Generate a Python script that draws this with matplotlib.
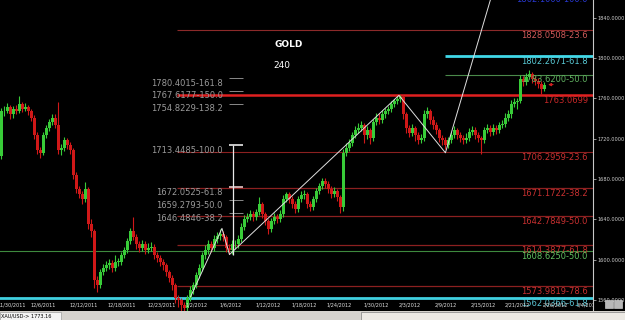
import matplotlib.pyplot as plt
from matplotlib import font_manager
from matplotlib.patches import Rectangle
import matplotlib.transforms as mtransforms

# 4h candles (one candle here ~ two bars of the screenshot)
first_open = 1703
closes = [1747, 1747, 1751, 1744, 1749, 1747, 1754, 1749, 1751, 1747,
          1741, 1724, 1709, 1706, 1724, 1731, 1737, 1741, 1734, 1709,
          1711, 1719, 1714, 1709, 1684, 1670, 1665, 1660, 1670, 1635,
          1628, 1580, 1575, 1588, 1592, 1595, 1597, 1592, 1598, 1598,
          1605, 1610, 1618, 1628, 1622, 1615, 1612, 1615, 1610, 1612,
          1613, 1605, 1602, 1598, 1595, 1588, 1582, 1575, 1562, 1560,
          1555, 1552, 1562, 1570, 1575, 1585, 1592, 1605, 1610, 1615,
          1612, 1620, 1623, 1625, 1622, 1612, 1610, 1615, 1615, 1620,
          1632, 1640, 1642, 1645, 1642, 1647, 1655, 1645, 1638, 1630,
          1638, 1642, 1640, 1645, 1660, 1665, 1660, 1655, 1650, 1660,
          1664, 1665, 1655, 1652, 1660, 1668, 1673, 1678, 1675, 1670,
          1665, 1668, 1662, 1652, 1706, 1711, 1716, 1724, 1729, 1731,
          1734, 1724, 1729, 1721, 1737, 1741, 1739, 1744, 1747, 1749,
          1754, 1757, 1759, 1761, 1744, 1731, 1726, 1731, 1724, 1719,
          1721, 1744, 1747, 1739, 1734, 1729, 1721, 1719, 1714, 1719,
          1724, 1729, 1724, 1721, 1719, 1721, 1727, 1729, 1724, 1721,
          1719, 1729, 1731, 1727, 1731, 1729, 1734, 1735, 1741, 1744,
          1754, 1756, 1757, 1779, 1776, 1781, 1784, 1779, 1777, 1774,
          1769, 1773.16]
highs = [1750, 1752, 1755, 1753, 1752, 1753, 1762, 1756, 1755, 1753,
         1749, 1743, 1727, 1712, 1727, 1734, 1740, 1744, 1744, 1756,
         1715, 1722, 1721, 1717, 1711, 1687, 1673, 1668, 1677, 1672,
         1640, 1630, 1584, 1591, 1596, 1599, 1601, 1600, 1605, 1602,
         1608, 1613, 1621, 1631, 1642, 1625, 1618, 1619, 1618, 1616,
         1617, 1615, 1608, 1605, 1601, 1597, 1590, 1585, 1577, 1565,
         1562, 1558, 1565, 1574, 1578, 1588, 1596, 1608, 1614, 1619,
         1618, 1624, 1627, 1630, 1628, 1624, 1615, 1619, 1619, 1624,
         1636, 1644, 1646, 1649, 1648, 1650, 1662, 1657, 1647, 1640,
         1641, 1646, 1645, 1649, 1664, 1667, 1667, 1663, 1658, 1663,
         1668, 1669, 1667, 1658, 1663, 1671, 1676, 1681, 1681, 1678,
         1673, 1672, 1670, 1664, 1710, 1716, 1720, 1727, 1733, 1736,
         1738, 1736, 1733, 1731, 1740, 1745, 1745, 1748, 1750, 1752,
         1757, 1759, 1762, 1763, 1763, 1746, 1734, 1735, 1733, 1727,
         1725, 1748, 1751, 1749, 1742, 1737, 1731, 1724, 1722, 1722,
         1727, 1733, 1731, 1727, 1724, 1726, 1731, 1733, 1732, 1727,
         1723, 1732, 1735, 1734, 1735, 1734, 1737, 1739, 1745, 1748,
         1758, 1760, 1760, 1783, 1782, 1785, 1788, 1786, 1782, 1780,
         1777, 1776]
lows = [1700, 1742, 1745, 1740, 1741, 1744, 1745, 1746, 1747, 1743,
        1738, 1720, 1705, 1701, 1704, 1721, 1728, 1734, 1731, 1705,
        1704, 1708, 1710, 1705, 1680, 1666, 1661, 1655, 1657, 1630,
        1622, 1572, 1568, 1572, 1585, 1589, 1591, 1588, 1589, 1594,
        1595, 1602, 1607, 1615, 1619, 1611, 1608, 1609, 1606, 1607,
        1609, 1601, 1598, 1594, 1590, 1584, 1578, 1570, 1557, 1553,
        1549, 1548, 1549, 1559, 1566, 1572, 1582, 1589, 1601, 1606,
        1608, 1609, 1616, 1619, 1618, 1608, 1606, 1606, 1611, 1612,
        1617, 1629, 1637, 1639, 1638, 1639, 1644, 1641, 1634, 1625,
        1627, 1635, 1636, 1637, 1642, 1657, 1656, 1651, 1646, 1647,
        1657, 1660, 1651, 1648, 1649, 1657, 1665, 1670, 1671, 1666,
        1661, 1662, 1658, 1646, 1648, 1703, 1708, 1713, 1721, 1726,
        1728, 1716, 1720, 1715, 1718, 1734, 1735, 1736, 1741, 1744,
        1746, 1751, 1754, 1756, 1740, 1726, 1722, 1723, 1718, 1715,
        1716, 1718, 1741, 1735, 1730, 1725, 1717, 1714, 1710, 1711,
        1716, 1721, 1720, 1717, 1715, 1716, 1718, 1724, 1720, 1717,
        1705, 1716, 1726, 1723, 1724, 1725, 1726, 1731, 1732, 1738,
        1741, 1751, 1749, 1755, 1772, 1773, 1779, 1775, 1773, 1770,
        1764, 1767]
opens = [first_open] + closes[:-1]

date_labels = ['11/30/2011', '12/6/2011', '12/12/2011', '12/18/2011', '12/23/2011',
               '1/2/2012', '1/6/2012', '1/12/2012', '1/18/2012', '1/24/2012',
               '1/30/2012', '2/3/2012', '2/9/2012', '2/15/2012', '2/21/2012',
               '2/26/2012', '3/4/2012']
date_pos = [3.5, 14, 27.5, 40, 53.5, 65, 76.5, 89, 101, 112.5,
            125, 136, 148, 160.5, 172, 184.5, 195.5]

# fibonacci levels drawn on the right
fib_prices = [1862.1, 1828.0508, 1802.2671, 1783.62, 1763.0699, 1706.2959,
              1671.1722, 1642.7849, 1614.3877, 1608.625, 1573.9819, 1562.0366]
fib_labels = ['1862.1000-100.0', '1828.0508-23.6', '1802.2671-61.8', '1783.6200-50.0',
              '1763.0699', '1706.2959-23.6', '1671.1722-38.2', '1642.7849-50.0',
              '1614.3877-61.8', '1608.6250-50.0', '1573.9819-78.6', '1562.0366-61.8']
fib_start = [148, 58.5, 148, 148, 58.5, 58.5, 58.5, 58.5, 58.5, -1, 58.5, -1]
fib_line_colors = ['#2030c0', '#8c2a2a', '#40d8e8', '#4a8a4a', '#e02020', '#8c2020',
                   '#8c2020', '#8c2020', '#8c2020', '#3e8a3e', '#8c2020', '#40d0e0']
fib_text_colors = ['#2838d0', '#d05a5a', '#58c8d4', '#60b060', '#c82828', '#c83030',
                   '#c83030', '#c83030', '#c83030', '#60c060', '#c83030', '#58c0d0']
fib_widths = [1, 0.8, 2, 0.8, 1.8, 0.8, 0.9, 0.9, 0.9, 0.8, 0.9, 2]

# projection levels (left labels)
proj_prices = [1780.4015, 1767.6177, 1754.8229, 1713.4485, 1672.0525, 1659.2793, 1646.4846]
proj_labels = ['1780.4015-161.8', '1767.6177-150.0', '1754.8229-138.2', '1713.4485-100.0',
               '1672.0525-61.8', '1659.2793-50.0', '1646.4846-38.2']
proj_colors = ['#8a8a8a', '#8a8a8a', '#8a8a8a', '#e8e8e8', '#e8c8c8', '#8a8a8a', '#8a8a8a']

# zigzag pivots (bar index, price)
zig_idx = [63, 73.5, 76, 132.5, 148, 165]
zig_price = [1563, 1631, 1605, 1763, 1706, 1878]

last_price = 1773.16

# ------------------------------------------------------------------
available = {f.name for f in font_manager.fontManager.ttflist}
if 'Liberation Sans Narrow' in available:
    lcd_font, lcd_size = 'Liberation Sans Narrow', 8.2
else:
    lcd_font, lcd_size = 'DejaVu Sans', 6.0

fig = plt.figure(figsize=(6.25, 3.2), dpi=100, facecolor='black')
ax = fig.add_axes([0, 9 / 320, 593 / 625, 311 / 320])
ax.set_facecolor('black')
xmax = 197.2
ax.set_xlim(-0.5, xmax)
ax.set_ylim(1549, 1857.6)

# candles
for i, (o, h, l, c) in enumerate(zip(opens, highs, lows, closes)):
    col = '#38cc38' if c >= o else '#d01818'
    ax.vlines(i, l, h, color=col, lw=0.8, zorder=3)
    ax.bar(i, max(abs(c - o), 0.8), bottom=min(o, c), width=0.78, color=col,
           linewidth=0, zorder=3)

# fib lines + labels (top one is mostly cut off by the window edge)
for p, lab, s, lc, tc, w in zip(fib_prices, fib_labels, fib_start, fib_line_colors,
                                fib_text_colors, fib_widths):
    ax.hlines(p, s, xmax, color=lc, lw=w, zorder=2)
    ty = p + 0.5 if p > 1850 else p - 0.8
    ax.text(195.5, ty, lab, color=tc, ha='right', va='top',
            fontsize=lcd_size, family=lcd_font, zorder=4)

# projection ticks and labels
for p, lab, col in zip(proj_prices, proj_labels, proj_colors):
    ax.hlines(p, 75.8, 80.5, color=col, lw=1.2 if col != '#8a8a8a' else 0.7, zorder=4)
    ax.text(73.8, p - 0.8, lab, color='#9a9a9a', ha='right', va='top',
            fontsize=lcd_size, family=lcd_font, zorder=4)
ax.vlines(77.3, zig_price[2], proj_prices[3], color='#e8e8e8', lw=0.9, zorder=4)

# zigzag
ax.plot(zig_idx, zig_price, color='#e0e0e0', lw=0.7, zorder=5)

# small red marker next to last candle
ax.annotate('', xy=(181.3, last_price + 0.5), xytext=(184.8, last_price + 0.5),
            arrowprops=dict(arrowstyle='-|>', color='#d02020', lw=0.8,
                            mutation_scale=4), zorder=5)

# title texts
ax.text(0.486, 0.858, 'GOLD', transform=ax.transAxes, color='white', fontsize=6.5,
        fontweight='bold', ha='center', va='center')
ax.text(0.476, 0.788, '240', transform=ax.transAxes, color='white', fontsize=6.5,
        ha='center', va='center')

# date labels inside the plot
trans = mtransforms.blended_transform_factory(ax.transData, ax.transAxes)
for pos, lab in zip(date_pos, date_labels):
    ax.text(pos, 0.019, lab, transform=trans, color='#e0e0e0', fontsize=3.6,
            ha='center', va='center', clip_on=True, zorder=6)

# right price axis
for side in ['left', 'top', 'bottom']:
    ax.spines[side].set_visible(False)
ax.spines['right'].set_color('#c8c8c8')
ax.spines['right'].set_linewidth(0.8)
ax.set_xticks([])
ax.yaxis.tick_right()
ax.set_yticks(range(1560, 1841, 40))
ax.set_yticklabels(['%.4f' % v for v in range(1560, 1841, 40)])
ax.tick_params(axis='y', colors='#d0d0d0', labelsize=3.6, length=2, width=0.5, pad=1.5)

ax.text(1.004, last_price, '%.4f' % last_price, transform=trans, fontsize=3.6,
        color='black', va='center', ha='left', clip_on=False,
        bbox=dict(boxstyle='square,pad=0.25', fc='white', ec='none'))
ax.plot([0.997], [1713.4], 's', transform=trans, ms=3, mfc='none', mec='white',
        mew=0.6, clip_on=False, zorder=7)
ax.plot([0.997], [1562.5], 's', transform=trans, ms=3, mfc='#30e030', mec='#30e030',
        clip_on=False, zorder=7)

# status bar at the bottom
fig.patches.append(Rectangle((0, 0), 1, 9 / 320, transform=fig.transFigure,
                             fc='#d6d3ce', ec='none'))
fig.patches.append(Rectangle((0, 0), 61 / 625, 8 / 320, transform=fig.transFigure,
                             fc='#f4f4f4', ec='#a0a0a0', lw=0.5))
fig.patches.append(Rectangle((361 / 625, 0), 264 / 625, 8 / 320, transform=fig.transFigure,
                             fc='#ece9e4', ec='#808080', lw=0.5))
fig.text(1 / 625, 4 / 320, 'XAU/USD-> 1773.16', fontsize=3.6, color='black',
         va='center', ha='left')
for bx in [605, 614]:
    fig.patches.append(Rectangle((bx / 625, 12 / 320), 8 / 625, 8 / 320,
                                 transform=fig.transFigure, fc='#b8b8b8',
                                 ec='#e0e0e0', lw=0.4))

fig.savefig('out.png', dpi=100, facecolor='black')
